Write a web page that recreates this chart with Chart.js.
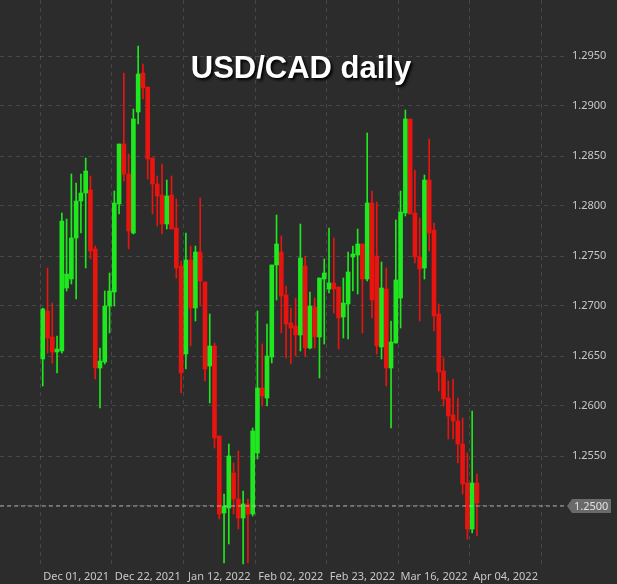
<!DOCTYPE html>
<html>
<head>
<meta charset="utf-8">
<script src="https://cdn.jsdelivr.net/npm/chart.js@4.4.1/dist/chart.umd.min.js"></script>
<style>
  html, body { margin: 0; padding: 0; background: #2b2c2b; }
  #wrap { position: relative; width: 617px; height: 584px; }
  #title { position: absolute; left: 0; top: 50px; width: 602px; text-align: center;
           font-family: 'Liberation Sans', Arial, sans-serif; font-weight: bold; font-size: 31px;
           color: #fff; text-shadow: 2px 2px 3px #000; pointer-events: none; }
</style>
</head>
<body>
<div id="wrap">
  <canvas id="c" width="617" height="584"></canvas>
  <div id="title">USD/CAD daily</div>
</div>
<script>
// ── Datos (open, high, low, close por vela diaria) ───
const opens  = [1.2647,1.2695,1.2669,1.2654,1.2655,1.2718,1.2727,1.2768,1.2805,1.2813,1.2816,1.2757,1.2638,1.2644,1.2700,1.2714,1.2802,1.2862,1.2832,1.2773,1.2894,1.2933,1.2919,
                1.2848,1.2822,1.2811,1.2782,1.2811,1.2778,1.2740,1.2652,1.2746,1.2698,1.2754,1.2724,1.2640,1.2660,1.2570,1.2493,1.2498,1.2533,1.2507,1.2488,1.2502,1.2492,1.2553,
                1.2618,1.2608,1.2649,1.2741,1.2754,1.2711,1.2683,1.2680,1.2671,1.2740,1.2658,1.2699,1.2669,1.2727,1.2717,1.2723,1.2719,1.2689,1.2702,1.2749,1.2751,1.2762,
                1.2727,1.2803,1.2750,1.2659,1.2717,1.2638,1.2663,1.2708,1.2793,1.2887,1.2793,1.2749,1.2738,1.2826,1.2776,1.2692,1.2635,1.2608,1.2591,1.2585,1.2562,1.2523,1.2477,1.2523];
const highs  = [1.2698,1.2738,1.2703,1.2670,1.2793,1.2787,1.2832,1.2823,1.2832,1.2848,1.2830,1.2760,1.2658,1.2715,1.2733,1.2815,1.2862,1.2933,1.2852,1.2897,1.2960,1.2942,1.2919,
                1.2848,1.2830,1.2842,1.2826,1.2830,1.2807,1.2745,1.2773,1.2760,1.2760,1.2808,1.2724,1.2692,1.2663,1.2570,1.2512,1.2562,1.2543,1.2555,1.2515,1.2507,1.2578,1.2695,
                1.2662,1.2682,1.2741,1.2791,1.2770,1.2720,1.2698,1.2708,1.2782,1.2750,1.2714,1.2708,1.2728,1.2747,1.2778,1.2768,1.2719,1.2728,1.2754,1.2760,1.2777,1.2762,
                1.2873,1.2815,1.2804,1.2744,1.2738,1.2685,1.2786,1.2815,1.2896,1.2887,1.2836,1.2788,1.2831,1.2867,1.2783,1.2702,1.2648,1.2625,1.2627,1.2608,1.2588,1.2553,1.2595,1.2532];
const lows   = [1.2620,1.2653,1.2643,1.2633,1.2653,1.2715,1.2722,1.2707,1.2773,1.2738,1.2747,1.2627,1.2598,1.2642,1.2673,1.2700,1.2792,1.2825,1.2757,1.2772,1.2882,1.2907,1.2827,
                1.2792,1.2780,1.2772,1.2777,1.2777,1.2728,1.2613,1.2637,1.2660,1.2685,1.2700,1.2625,1.2603,1.2558,1.2487,1.2443,1.2462,1.2492,1.2477,1.2442,1.2443,1.2490,1.2547,
                1.2600,1.2600,1.2643,1.2706,1.2673,1.2648,1.2642,1.2650,1.2655,1.2650,1.2657,1.2658,1.2628,1.2662,1.2713,1.2693,1.2657,1.2668,1.2667,1.2715,1.2712,1.2673,
                1.2725,1.2688,1.2652,1.2647,1.2620,1.2578,1.2663,1.2678,1.2790,1.2792,1.2743,1.2685,1.2727,1.2755,1.2675,1.2615,1.2600,1.2567,1.2567,1.2543,1.2512,1.2467,1.2473,1.2470];
const closes = [1.2697,1.2668,1.2654,1.2657,1.2785,1.2732,1.2768,1.2805,1.2813,1.2835,1.2755,1.2638,1.2645,1.2700,1.2715,1.2803,1.2862,1.2832,1.2775,1.2887,1.2932,1.2918,1.2847,
                1.2822,1.2810,1.2782,1.2810,1.2777,1.2738,1.2633,1.2746,1.2698,1.2754,1.2725,1.2637,1.2660,1.2568,1.2492,1.2500,1.2550,1.2507,1.2488,1.2502,1.2492,1.2575,1.2618,
                1.2610,1.2650,1.2741,1.2762,1.2710,1.2682,1.2678,1.2671,1.2748,1.2658,1.2700,1.2669,1.2728,1.2733,1.2723,1.2717,1.2688,1.2703,1.2734,1.2752,1.2762,1.2727,
                1.2803,1.2706,1.2660,1.2718,1.2638,1.2664,1.2726,1.2794,1.2887,1.2792,1.2749,1.2737,1.2826,1.2773,1.2690,1.2634,1.2607,1.2590,1.2585,1.2562,1.2522,1.2477,1.2523,1.2503];

const dateTickIdx = [7, 22, 37, 52, 67, 82, 97];
const dateTickLabels = ['Dec 01, 2021', 'Dec 22, 2021', 'Jan 12, 2022', 'Feb 02, 2022', 'Feb 23, 2022', 'Mar 16, 2022', 'Apr 04, 2022'];
const priceTicks = [1.2500, 1.2550, 1.2600, 1.2650, 1.2700, 1.2750, 1.2800, 1.2850, 1.2900, 1.2950];
const lastPrice = 1.2500;

const GREEN = '#1ee81e', RED = '#e8140f';
const colores = closes.map((c, i) => c >= opens[i] ? GREEN : RED);
const mechas = highs.map((h, i) => ({ x: i, y: [lows[i], h] }));
const cuerpos = opens.map((o, i) => ({ x: i, y: [Math.min(o, closes[i]), Math.max(o, closes[i])] }));

// ── Línea y etiqueta del último precio ───────────────
const lastPricePlugin = {
  id: 'lastPrice',
  afterDatasetsDraw(chart) {
    const { ctx, chartArea, scales } = chart;
    const y = scales.y.getPixelForValue(lastPrice);
    ctx.save();
    ctx.strokeStyle = 'rgba(210,210,210,.75)';
    ctx.setLineDash([4, 3]);
    ctx.beginPath(); ctx.moveTo(chartArea.left, y); ctx.lineTo(chartArea.right, y); ctx.stroke();
    ctx.setLineDash([]);
    ctx.fillStyle = '#6a6a6a';
    ctx.beginPath();
    ctx.moveTo(chartArea.right + 2, y);
    ctx.lineTo(chartArea.right + 7, y - 7);
    ctx.lineTo(chartArea.right + 46, y - 7);
    ctx.lineTo(chartArea.right + 46, y + 7);
    ctx.lineTo(chartArea.right + 7, y + 7);
    ctx.closePath(); ctx.fill();
    ctx.fillStyle = '#e0e0e0';
    ctx.font = '11px "Noto Sans", sans-serif';
    ctx.textBaseline = 'middle';
    ctx.fillText(lastPrice.toFixed(4), chartArea.right + 9, y + 1);
    ctx.restore();
  }
};

const grid = { color: 'rgba(255,255,255,.13)', tickLength: 0, drawTicks: false };
const border = { display: false, dash: [4, 4] };

new Chart(document.getElementById('c'), {
  type: 'bar',
  data: {
    datasets: [
      { data: mechas, backgroundColor: colores, barThickness: 1, grouped: false, order: 2 },
      { data: cuerpos, backgroundColor: colores, barThickness: 4, minBarLength: 1, grouped: false, order: 1 }
    ]
  },
  options: {
    responsive: false, animation: false,
    layout: { padding: 0 },
    plugins: { legend: { display: false }, tooltip: { enabled: false } },
    scales: {
      x: {
        type: 'linear', min: -0.5, max: 101,
        grid, border,
        afterFit: s => { s.height = 18; s.paddingLeft = 0; s.paddingRight = 0; },
        afterBuildTicks: s => { s.ticks = dateTickIdx.map(v => ({ value: v })); },
        ticks: {
          color: '#c8c8c8', font: { size: 11, family: 'Noto Sans' }, padding: 4, maxRotation: 0,
          callback: (v) => dateTickLabels[dateTickIdx.indexOf(v)] || ''
        }
      },
      y: {
        position: 'right', min: 1.2440, max: 1.3006,
        grid, border,
        afterFit: s => { s.width = 52; s.paddingTop = 0; s.paddingBottom = 0; },
        afterBuildTicks: s => { s.ticks = priceTicks.map(v => ({ value: v })); },
        ticks: {
          color: '#c8c8c8', font: { size: 11, family: 'Noto Sans' }, padding: 7,
          callback: v => v.toFixed(4)
        }
      }
    }
  },
  plugins: [lastPricePlugin]
});
</script>
</body>
</html>
